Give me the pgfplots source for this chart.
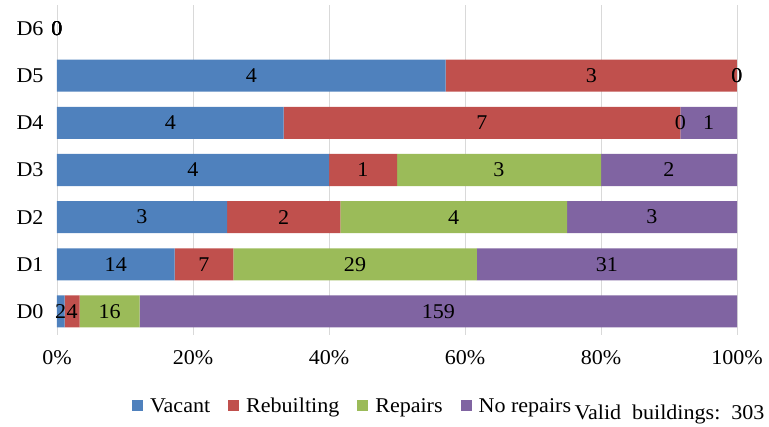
\documentclass[border=0pt]{standalone}
\usepackage{fontspec}
\setmainfont{Liberation Serif}[FakeStretch=1.05]
\usepackage{pgfplots}
\usepackage{pgfplotstable}
\pgfplotsset{compat=1.18}

\definecolor{cVacant}{HTML}{4F81BD}
\definecolor{cRebuild}{HTML}{C0504D}
\definecolor{cRepair}{HTML}{9BBB59}
\definecolor{cNoRepair}{HTML}{8064A2}

% building counts per damage grade:
% T = total, V = vacant, R = rebuilding, P = repairs, N = no repairs
\pgfplotstableread{
y  T    V   R   P   N
0  181  2   4   16  159
1  81   14  7   29  31
2  12   3   2   4   3
3  10   4   1   3   2
4  12   4   7   0   1
5  7    4   3   0   0
6  0    0   0   0   0
}\buildings

\newcommand{\chartfont}{\fontsize{21}{25}\selectfont}

\pgfplotsset{
  gradeaxis/.style={
    at={(57pt,92pt)}, anchor=south west,
    scale only axis, width=680pt, height=330pt,
    xmin=0, xmax=100, ymin=-0.5, ymax=6.5,
  },
}

\begin{document}
\begin{tikzpicture}[x=1pt,y=1pt]
\useasboundingbox (0,0) rectangle (769,427);
% stacked shares of each outcome
\begin{axis}[gradeaxis,
  xbar stacked, bar width=0.68,
  xtick={0,20,...,100}, xticklabels={0\%,20\%,40\%,60\%,80\%,100\%},
  ytick={0,...,6}, yticklabels={D0,D1,D2,D3,D4,D5,D6},
  xmajorgrids, major grid style={draw=black!15, line width=0.8pt},
  axis line style={draw=none}, major tick length=0pt,
  tick label style={font=\chartfont},
  xticklabel style={yshift=-12pt},
  yticklabel style={xshift=-10pt},
  legend columns=-1,
  legend style={draw=none, fill=none, font=\chartfont,
    at={(axis description cs:0.1103,-0.215)}, anchor=west, inner sep=0pt,
    /tikz/every odd column/.style={column sep=5pt},
    /tikz/every even column/.style={column sep=16pt}},
  legend image code/.code={\fill[#1] (0pt,-5.5pt) rectangle (11pt,5.5pt);},
]
\addplot[fill=cVacant, draw=none]
  table[x expr={100*\thisrow{V}/max(\thisrow{T},1)}, y=y] {\buildings};
\addplot[fill=cRebuild, draw=none]
  table[x expr={100*\thisrow{R}/max(\thisrow{T},1)}, y=y] {\buildings};
\addplot[fill=cRepair, draw=none]
  table[x expr={100*\thisrow{P}/max(\thisrow{T},1)}, y=y] {\buildings};
\addplot[fill=cNoRepair, draw=none]
  table[x expr={100*\thisrow{N}/max(\thisrow{T},1)}, y=y] {\buildings};
\legend{Vacant,Rebuilting,Repairs,No repairs}
\end{axis}

% counts written at the middle of each segment
\begin{axis}[gradeaxis, hide axis, clip=false,
  nodes near coords, point meta=explicit symbolic,
  nodes near coords align=center,
  every node near coord/.style={anchor=center, font=\chartfont, inner sep=0pt, text=black},
]
\addplot[only marks, mark=none]
  table[x expr={100*(\thisrow{V}/2)/max(\thisrow{T},1)}, y=y, meta=V] {\buildings};
\addplot[only marks, mark=none]
  table[x expr={100*(\thisrow{V}+\thisrow{R}/2)/max(\thisrow{T},1)}, y=y, meta=R] {\buildings};
\addplot[only marks, mark=none]
  table[x expr={100*(\thisrow{V}+\thisrow{R}+\thisrow{P}/2)/max(\thisrow{T},1)}, y=y, meta=P] {\buildings};
\addplot[only marks, mark=none]
  table[x expr={100*(\thisrow{V}+\thisrow{R}+\thisrow{P}+\thisrow{N}/2)/max(\thisrow{T},1)}, y=y, meta=N] {\buildings};
\end{axis}

\node[anchor=base east, font=\chartfont] at (768,7) {Valid\ \ buildings:\ \ 303};
\end{tikzpicture}
\end{document}
